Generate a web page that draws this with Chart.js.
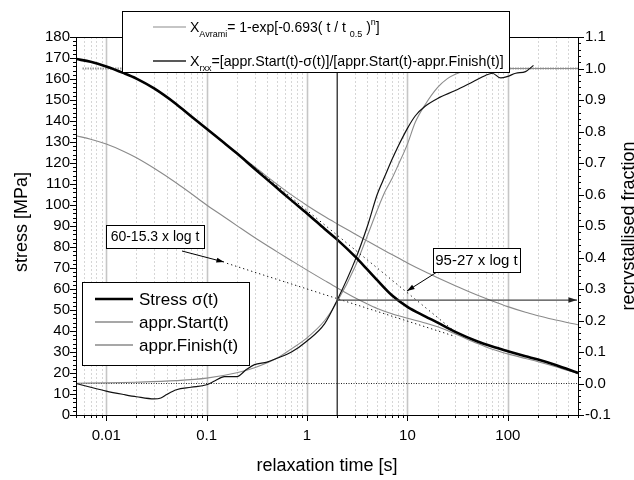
<!DOCTYPE html>
<html>
<head>
<meta charset="utf-8">
<script src="https://cdn.jsdelivr.net/npm/chart.js@4.4.0/dist/chart.umd.min.js"></script>
<style>
  html, body { margin: 0; padding: 0; background: #fff; }
  #wrap { width: 634px; height: 480px; overflow: hidden; }
</style>
</head>
<body>
<div id="wrap"><canvas id="c" width="634" height="480"></canvas></div>
<script>
const FONT = "'Liberation Sans', Arial, sans-serif";

// relaxation time grid [s] for the stress curves
const times = [0.005, 0.007, 0.01, 0.015, 0.02, 0.03, 0.05, 0.07, 0.1, 0.15, 0.2, 0.3, 0.5, 0.7, 1, 1.5, 2, 3, 4, 5, 7, 10, 15, 20, 30, 50, 70, 100, 150, 200, 300, 500];
const stress = [169.5, 168.2, 166, 162.8, 160.2, 155.5, 148, 142.3, 136.3, 129.5, 124.6, 117.3, 108.2, 102.2, 96, 88.6, 83.5, 75.5, 69.2, 64.2, 57, 51.5, 47, 44, 39.6, 35, 32.6, 30.4, 28, 26.4, 23.8, 20];
const apprStart = [169.5, 168.2, 166, 162.8, 160.2, 155.5, 148, 142.3, 136.3, 129.5, 124.6, 118.2, 110, 104.8, 99.8, 94.5, 91, 86.2, 82.8, 80.2, 76.4, 72.4, 68.2, 65.4, 61.6, 57, 54.3, 51.6, 48.9, 47.3, 45.2, 43];
const apprFinish = [133, 131.3, 129, 125.5, 122.5, 117.5, 110.5, 105.5, 100, 94.3, 90.2, 84.5, 77.8, 73.5, 69, 64, 60.5, 55.8, 52.8, 50.7, 48.2, 46.1, 43.8, 42, 38.6, 34, 31.3, 29.1, 26.9, 25.4, 23, 19.7];

// log-linear fits (end points)
const fitUpperT = [0.12, 30];
const fitUpperS = [133.5, 39.5];
const fitLowerT = [0.16, 30];
const fitLowerS = [72.2, 37.4];

// recrystallised fraction from the stress curves
const xrxxT = [0.005, 0.007, 0.01, 0.015, 0.02, 0.03, 0.035, 0.04, 0.05, 0.07, 0.1, 0.12, 0.15, 0.2, 0.25, 0.3, 0.4, 0.5, 0.7, 1, 1.5, 2, 3, 4, 5, 6, 7, 8, 10, 12, 15, 20, 30, 45, 60, 70, 85, 100, 120, 150, 180];
const xrxx = [0, -0.012, -0.024, -0.035, -0.042, -0.049, -0.046, -0.035, -0.02, -0.012, -0.004, 0.008, 0.022, 0.022, 0.045, 0.06, 0.068, 0.08, 0.1, 0.135, 0.19, 0.265, 0.39, 0.5, 0.6, 0.66, 0.71, 0.75, 0.81, 0.85, 0.88, 0.905, 0.93, 0.958, 0.978, 0.985, 0.97, 0.975, 0.985, 0.99, 1.01];

// Avrami fit
const avramiT = [0.005, 0.01, 0.02, 0.05, 0.1, 0.2, 0.3, 0.5, 0.7, 1, 1.5, 2, 3, 4, 5, 6, 7, 8, 10, 12, 15, 20, 25, 30, 40, 50, 100, 200, 500];
const avrami = [0.001, 0.002, 0.004, 0.009, 0.017, 0.034, 0.05, 0.08, 0.11, 0.145, 0.2, 0.26, 0.37, 0.47, 0.55, 0.61, 0.65, 0.69, 0.76, 0.83, 0.885, 0.94, 0.968, 0.982, 0.995, 1, 1, 1, 1];

// reference levels
const refT = [0.005, 500];
const refZero = [0, 0];
const refOneT = [0.0058, 500];
const refOne = [1, 1];
const markT = 2;          // vertical marker [s]
const markX = 0.265;      // fraction read at the marker

// axes
const X_MIN = 0.005, X_MAX = 500;
const xMajorTicks = [0.01, 0.1, 1, 10, 100];
const stressTicks = [0, 10, 20, 30, 40, 50, 60, 70, 80, 90, 100, 110, 120, 130, 140, 150, 160, 170, 180];
const fracTicks = [-0.1, 0, 0.1, 0.2, 0.3, 0.4, 0.5, 0.6, 0.7, 0.8, 0.9, 1.0, 1.1];

const xGrid = [];
for (let e = -3; e <= 2; e++) {
  for (let m = 1; m <= 9; m++) {
    const v = parseFloat((m * Math.pow(10, e)).toPrecision(2));
    if (v >= X_MIN && v <= X_MAX) xGrid.push(v);
  }
}

const pts = (xs, ys) => xs.map((x, i) => ({ x, y: ys[i] }));
const line = (label, data, axis, style) => ({
  label, data, yAxisID: axis, pointRadius: 0, fill: false,
  cubicInterpolationMode: 'monotone', ...style,
});

const datasets = [
  line('Stress σ(t)', pts(times, stress), 'y', { borderColor: '#000', borderWidth: 2.6 }),
  line('Xrxx', pts(xrxxT, xrxx), 'y1', { borderColor: '#111', borderWidth: 1.2 }),
  line('fit upper', pts(fitUpperT, fitUpperS), 'y', { borderColor: '#000', borderWidth: 1, borderDash: [1.2, 3.5] }),
  line('fit lower', pts(fitLowerT, fitLowerS), 'y', { borderColor: '#000', borderWidth: 1, borderDash: [1.2, 3] }),
  line('Avrami', pts(avramiT, avrami), 'y1', { borderColor: '#8c8c8c', borderWidth: 1.1 }),
  line('appr.Start(t)', pts(times, apprStart), 'y', { borderColor: '#8a8a8a', borderWidth: 1.1 }),
  line('appr.Finish(t)', pts(times, apprFinish), 'y', { borderColor: '#8a8a8a', borderWidth: 1.1 }),
  line('X=0', pts(refT, refZero), 'y1', { borderColor: '#222', borderWidth: 1, borderDash: [1, 1.5] }),
  line('X=1', pts(refOneT, refOne), 'y1', { borderColor: '#9a9a9a', borderWidth: 2, borderDash: [1.5, 1] }),
];

const NOTES = [
  { text: '60-15.3 x log t', size: 14, box: [106, 225, 98, 23], from: [182, 251], to: [224, 262] },
  { text: '95-27 x log t', size: 15, box: [433, 248, 87, 24], from: [437, 272], to: [407, 291] },
];

function drawArrow(ctx, x0, y0, x1, y1, head) {
  ctx.beginPath(); ctx.moveTo(x0, y0); ctx.lineTo(x1, y1); ctx.stroke();
  const a = Math.atan2(y1 - y0, x1 - x0);
  ctx.beginPath();
  ctx.moveTo(x1, y1);
  ctx.lineTo(x1 - head * Math.cos(a - 0.32), y1 - head * Math.sin(a - 0.32));
  ctx.lineTo(x1 - head * Math.cos(a + 0.32), y1 - head * Math.sin(a + 0.32));
  ctx.closePath(); ctx.fill();
}

function drawRich(ctx, x, y, runs, size) {
  for (const r of runs) {
    const fs = r.sub || r.sup ? Math.round(size * 0.62) : size;
    ctx.font = `${fs}px ${FONT}`;
    const dy = r.sub ? size * 0.38 : r.sup ? -size * 0.5 : 0;
    ctx.fillText(r.t, x, y + dy);
    x += ctx.measureText(r.t).width;
  }
}

const decor = {
  id: 'decor',
  beforeDatasetsDraw(chart) {
    const { ctx, chartArea: a, scales: { x } } = chart;
    ctx.save();
    for (const v of xGrid) {
      const px = Math.round(x.getPixelForValue(v)) + 0.5;
      const major = xMajorTicks.includes(v);
      ctx.beginPath();
      ctx.setLineDash(major ? [] : [2, 2]);
      ctx.strokeStyle = major ? '#c6c6c6' : '#d6d6d6';
      ctx.lineWidth = major ? 1.6 : 1;
      ctx.moveTo(px, a.top); ctx.lineTo(px, a.bottom); ctx.stroke();
    }
    ctx.restore();
  },
  afterDatasetsDraw(chart) {
    const { ctx, chartArea: a, scales: { x, y, y1 } } = chart;
    ctx.save();
    ctx.setLineDash([]);

    // frame
    ctx.strokeStyle = '#000';
    ctx.lineWidth = 1;
    ctx.strokeRect(a.left + 0.5, a.top + 0.5, a.right - a.left, a.bottom - a.top);

    // tick marks
    ctx.beginPath();
    for (const v of xGrid) {
      const px = Math.round(x.getPixelForValue(v)) + 0.5;
      const len = xMajorTicks.includes(v) ? 6 : 3;
      ctx.moveTo(px, a.bottom); ctx.lineTo(px, a.bottom + len);
    }
    for (let s = 0; s <= 180; s += 2) {
      const py = Math.round(y.getPixelForValue(s)) + 0.5;
      const len = s % 10 === 0 ? 6 : 3;
      ctx.moveTo(a.left, py); ctx.lineTo(a.left - len, py);
    }
    for (let k = -5; k <= 55; k++) {
      const py = Math.round(y1.getPixelForValue(k / 50)) + 0.5;
      const len = k % 5 === 0 ? 6 : 3;
      ctx.moveTo(a.right, py); ctx.lineTo(a.right + len, py);
    }
    ctx.stroke();

    // marker line at t = 2 s and arrow to the fraction axis
    const mx = x.getPixelForValue(markT);
    ctx.strokeStyle = '#444';
    ctx.fillStyle = '#222';
    ctx.lineWidth = 1.5;
    ctx.beginPath(); ctx.moveTo(mx, a.top); ctx.lineTo(mx, a.bottom); ctx.stroke();
    const my = y1.getPixelForValue(markX);
    ctx.lineWidth = 1.2;
    drawArrow(ctx, mx, my, a.right - 1, my, 9);

    // annotation boxes
    ctx.textAlign = 'center';
    ctx.textBaseline = 'middle';
    for (const n of NOTES) {
      ctx.strokeStyle = '#000';
      ctx.fillStyle = '#000';
      ctx.lineWidth = 1;
      drawArrow(ctx, n.from[0], n.from[1], n.to[0], n.to[1], 8);
      const [bx, by, bw, bh] = n.box;
      ctx.fillStyle = '#fff';
      ctx.fillRect(bx, by, bw, bh);
      ctx.strokeRect(bx + 0.5, by + 0.5, bw, bh);
      ctx.fillStyle = '#000';
      ctx.font = `${n.size}px ${FONT}`;
      ctx.fillText(n.text, bx + bw / 2, by + bh / 2 + 1);
    }

    // legend: stress curves
    ctx.fillStyle = '#fff';
    ctx.fillRect(82, 282, 167, 83);
    ctx.strokeStyle = '#000';
    ctx.lineWidth = 1;
    ctx.strokeRect(82.5, 282.5, 167, 83);
    const items = [
      ['Stress σ(t)', '#000', 2.6, 299],
      ['appr.Start(t)', '#8a8a8a', 1.3, 322],
      ['appr.Finish(t)', '#8a8a8a', 1.3, 345],
    ];
    ctx.textAlign = 'left';
    ctx.font = `17px ${FONT}`;
    for (const [lab, col, w, ly] of items) {
      ctx.strokeStyle = col; ctx.lineWidth = w;
      ctx.beginPath(); ctx.moveTo(95, ly); ctx.lineTo(133, ly); ctx.stroke();
      ctx.fillStyle = '#000';
      ctx.fillText(lab, 139, ly + 1);
    }

    // legend: fraction curves
    ctx.fillStyle = '#fff';
    ctx.fillRect(122, 11, 387, 61);
    ctx.strokeStyle = '#000';
    ctx.lineWidth = 1;
    ctx.strokeRect(122.5, 11.5, 387, 61);
    ctx.strokeStyle = '#8c8c8c'; ctx.lineWidth = 1.1;
    ctx.beginPath(); ctx.moveTo(153, 27); ctx.lineTo(186, 27); ctx.stroke();
    ctx.strokeStyle = '#222'; ctx.lineWidth = 1.3;
    ctx.beginPath(); ctx.moveTo(153, 61); ctx.lineTo(186, 61); ctx.stroke();
    ctx.fillStyle = '#000';
    ctx.textBaseline = 'alphabetic';
    drawRich(ctx, 190, 32, [
      { t: 'X' }, { t: 'Avrami', sub: true }, { t: '= 1-exp[-0.693( t / t ' },
      { t: '0.5', sub: true }, { t: ' )' }, { t: 'n', sup: true }, { t: ']' },
    ], 14);
    drawRich(ctx, 190, 66, [
      { t: 'X' }, { t: 'rxx', sub: true },
      { t: '=[appr.Start(t)-σ(t)]/[appr.Start(t)-appr.Finish(t)]' },
    ], 14.2);

    // axis titles
    ctx.font = `18px ${FONT}`;
    ctx.textAlign = 'center';
    ctx.textBaseline = 'middle';
    ctx.fillText('relaxation time [s]', (a.left + a.right) / 2, 466);
    ctx.save();
    ctx.translate(22, (a.top + a.bottom) / 2 - 4);
    ctx.rotate(-Math.PI / 2);
    ctx.fillText('stress [MPa]', 0, 0);
    ctx.restore();
    ctx.save();
    ctx.textBaseline = 'alphabetic';
    ctx.translate(634, (a.top + a.bottom) / 2);
    ctx.rotate(-Math.PI / 2);
    ctx.fillText('recrystallised fraction', 0, 0);
    ctx.restore();

    ctx.restore();
  },
};

new Chart(document.getElementById('c'), {
  type: 'line',
  data: { datasets },
  options: {
    responsive: false,
    animation: false,
    devicePixelRatio: 1,
    layout: { padding: { top: 37, left: 0, right: 0, bottom: 0 } },
    plugins: { legend: { display: false }, tooltip: { enabled: false } },
    scales: {
      x: {
        type: 'logarithmic',
        min: X_MIN, max: X_MAX,
        afterBuildTicks: (s) => { s.ticks = xMajorTicks.map((v) => ({ value: v })); },
        afterFit: (s) => { s.height = 65; },
        grid: { display: false, drawTicks: false },
        border: { display: false },
        ticks: {
          autoSkip: false, maxRotation: 0, padding: 12,
          color: '#000', font: { family: FONT, size: 15 },
          callback: (v) => String(v),
        },
      },
      y: {
        position: 'left',
        min: 0, max: 180,
        afterBuildTicks: (s) => { s.ticks = stressTicks.map((v) => ({ value: v })); },
        afterFit: (s) => { s.width = 76; },
        grid: { display: false, drawTicks: false },
        border: { display: false },
        ticks: { padding: 6, color: '#000', font: { family: FONT, size: 15 } },
      },
      y1: {
        position: 'right',
        min: -0.1, max: 1.1,
        afterBuildTicks: (s) => { s.ticks = fracTicks.map((v) => ({ value: v })); },
        afterFit: (s) => { s.width = 56; },
        grid: { display: false, drawTicks: false },
        border: { display: false },
        ticks: {
          padding: 7, color: '#000', font: { family: FONT, size: 15 },
          callback: (v) => (Math.round(v * 10) / 10).toFixed(1),
        },
      },
    },
  },
  plugins: [decor],
});
</script>
</body>
</html>
